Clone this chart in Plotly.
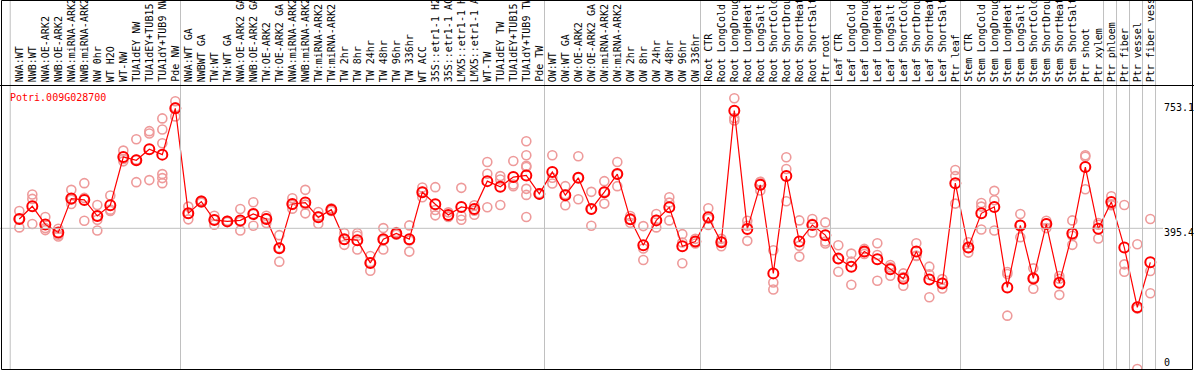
import plotly.graph_objects as go

gene = "Potri.009G028700"

categories = [
    "NWA:WT", "NWB:WT", "NWA:OE-ARK2", "NWB:OE-ARK2", "NWA:miRNA-ARK2", "NWB:miRNA-ARK2",
    "NW 0hr", "WT H2O", "WT-NW", "TUA1dEY NW", "TUA1dEY+TUB15 NW", "TUA1dY+TUB9 NW", "Pde NW",
    "NWA:WT GA", "NWBWT GA", "TW:WT", "TW:WT GA", "NWA:OE-ARK2 GA", "NWB:OE-ARK2 GA",
    "TW:OE-ARK2", "TW:OE-ARK2 GA", "NWA:miRNA-ARK2 GA", "NWB:miRNA-ARK2 GA", "TW:miRNA-ARK2",
    "TW:miRNA-ARK2 GA", "TW 2hr", "TW 8hr", "TW 24hr", "TW 48hr", "TW 96hr", "TW 336hr",
    "WT ACC", "35S::etr1-1 H2O", "35S::etr1-1 ACC", "LMX5::etr1-1 H2O", "LMX5::etr1-1 ACC",
    "WT-TW", "TUA1dEY TW", "TUA1dEY+TUB15 TW", "TUA1dY+TUB9 TW", "Pde TW",
    "OW:WT", "OW:WT GA", "OW:OE-ARK2", "OW:OE-ARK2 GA", "OW:miRNA-ARK2", "OW:miRNA-ARK2 GA",
    "OW 2hr", "OW 8hr", "OW 24hr", "OW 48hr", "OW 96hr", "OW 336hr",
    "Root CTR", "Root LongCold", "Root LongDrought", "Root LongHeat", "Root LongSalt",
    "Root ShortCold", "Root ShortDrought", "Root ShortHeat", "Root ShortSalt", "Ptr root",
    "Leaf CTR", "Leaf LongCold", "Leaf LongDrought", "Leaf LongHeat", "Leaf LongSalt",
    "Leaf ShortCold", "Leaf ShortDrought", "Leaf ShortHeat", "Leaf ShortSalt", "Ptr leaf",
    "Stem CTR", "Stem LongCold", "Stem LongDrought", "Stem LongHeat", "Stem LongSalt",
    "Stem ShortCold", "Stem ShortDrought", "Stem ShortHeat", "Stem ShortSalt", "Ptr shoot",
    "Ptr xylem", "Ptr phloem", "Ptr fiber", "Ptr vessel", "Ptr fiber vessel",
]

means = [
    423, 461, 407, 383, 484, 480, 432, 464, 608, 598, 631, 615, 753.1,
    440, 475, 420, 416, 419, 438, 423, 336, 468, 472, 428, 451,
    363, 360, 292, 363, 380, 363,
    503, 467, 435, 459, 453, 536, 519, 548, 553, 498,
    563, 494, 546, 453, 503, 557, 422, 345, 419, 458, 342, 356,
    428, 354, 746, 393, 525, 261, 551, 356, 405, 375,
    305, 281, 326, 303, 273, 245, 326, 243, 231, 530,
    338, 440, 459, 219, 404, 246, 408, 233, 380, 578,
    394, 474, 338, 160, 294,
]

replicates = [
    [447, 398, 424], [496, 483, 408], [429, 396, 390], [394, 376, 371], [510, 481, 468],
    [530, 486, 418], [465, 432, 421, 389], [493, 451, 447], [627, 602, 595], [661, 533, 600],
    [685, 678, 539], [723, 690, 649, 557, 545, 530], [774, 729, 756],
    [460, 422, 439], [478, 472, 475], [433, 406, 421], [418, 414, 416], [453, 389, 415],
    [473, 403, 438], [433, 411, 425], [375, 296, 337], [485, 454, 465], [510, 440, 466],
    [444, 409, 431], [455, 447, 451],
    [381, 346, 362], [381, 373, 332], [313, 269, 294], [396, 332, 361], [384, 376, 380],
    [404, 326, 359],
    [517, 488, 504], [518, 450, 434], [443, 431, 429], [516, 433, 421], [464, 448, 436],
    [593, 558, 458], [551, 541, 465], [596, 526, 521], [655, 613, 582, 578, 513, 495, 429],
    [500, 496, 498],
    [613, 546, 529], [521, 464, 497], [610, 482, 546], [504, 403, 452], [536, 469, 504],
    [593, 521, 557], [432, 412, 422], [402, 335, 301], [438, 398, 421], [488, 472, 419],
    [378, 353, 291], [364, 350, 356],
    [455, 405, 424], [364, 342, 356], [783, 724, 717], [418, 358, 403], [533, 508, 534],
    [330, 234, 213], [607, 572, 476], [419, 343, 311], [423, 383, 409], [413, 356, 350],
    [345, 266, 304], [320, 296, 227], [334, 319, 325], [351, 316, 239], [286, 254, 279],
    [261, 224, 250], [351, 313, 314], [281, 190, 258], [244, 216, 233], [569, 551, 469],
    [354, 323, 337], [471, 460, 392], [507, 479, 389], [265, 259, 135], [438, 369, 405],
    [276, 215, 247], [418, 396, 410], [253, 245, 197], [419, 373, 346], [613, 609, 512],
    [411, 365, 406], [491, 464, 467], [465, 288, 266], [348, -24, 156], [423, 268, 202],
]

scale_values = [753.1, 395.4, 0]
group_ends = [12, 40, 52, 62, 72, 83, 84, 85, 86, 87]

W, H = 1194, 370
TOP = 88
XMIN, XMAX = -1.485, 90.36
YMIN, YMAX = -27.0, 813.6
MONO = "DejaVu Sans Mono, Liberation Mono, monospace"

idx = list(range(len(categories)))
rx, ry = [], []
for i, reps in enumerate(replicates):
    for v in reps:
        rx.append(i)
        ry.append(v)

fig = go.Figure()
fig.add_trace(go.Scatter(
    x=rx, y=ry, mode="markers", hoverinfo="skip", showlegend=False,
    marker=dict(symbol="circle-open", size=9, color="#ee9a9a", line=dict(width=1.6, color="#ee9a9a")),
))
fig.add_trace(go.Scatter(
    x=idx, y=means, mode="lines+markers", showlegend=False,
    line=dict(color="#ff0000", width=1.2),
    marker=dict(symbol="circle-open", size=10, color="#ff0000", line=dict(width=2, color="#ff0000")),
))


def px_x(i):
    return (i - XMIN) / (XMAX - XMIN)


def py_paper(py):
    return (H - py) / (H - TOP)


shapes = []
sep_positions = [-0.7] + [g + 0.4 for g in group_ends]
for s in sep_positions:
    shapes.append(dict(type="line", xref="paper", yref="paper", x0=px_x(s), x1=px_x(s),
                       y0=0, y1=py_paper(0), line=dict(color="#c0c0c0", width=1)))
# horizontal reference line at middle scale value
shapes.append(dict(type="line", xref="paper", yref="y", x0=0, x1=1163 / W,
                   y0=scale_values[1], y1=scale_values[1], line=dict(color="#c0c0c0", width=1)))
# frame
shapes.append(dict(type="line", xref="paper", yref="paper", x0=0, x1=1,
                   y0=py_paper(85.5), y1=py_paper(85.5), line=dict(color="black", width=1)))
shapes.append(dict(type="rect", xref="paper", yref="paper", x0=1.5 / W, x1=1192.5 / W,
                   y0=py_paper(369.5), y1=py_paper(0.5), line=dict(color="black", width=1)))

annotations = []
for i, c in enumerate(categories):
    annotations.append(dict(
        x=i, xref="x", y=py_paper(83), yref="paper", text=c, showarrow=False,
        textangle=-90, xanchor="center", yanchor="bottom", borderpad=0,
        font=dict(family=MONO, size=10, color="black"),
    ))
annotations.append(dict(
    x=9 / W, xref="paper", y=py_paper(97), yref="paper", text=gene, showarrow=False,
    xanchor="left", yanchor="middle", borderpad=0, font=dict(family=MONO, size=10, color="#ff0000"),
))
shifts = [1, -4, -2]
for v, s in zip(scale_values, shifts):
    annotations.append(dict(
        x=1163 / W, xref="paper", y=v, yref="y", yshift=s, text=f"{v:g}" if v == 0 else f"{v}",
        showarrow=False, xanchor="left", yanchor="middle", borderpad=0,
        font=dict(family=MONO, size=10, color="black"),
    ))

fig.update_layout(
    width=W, height=H, autosize=False,
    margin=dict(l=0, r=0, t=TOP, b=0, pad=0),
    paper_bgcolor="white", plot_bgcolor="white",
    xaxis=dict(range=[XMIN, XMAX], visible=False, showgrid=False, zeroline=False),
    yaxis=dict(range=[YMIN, YMAX], visible=False, showgrid=False, zeroline=False),
    shapes=shapes, annotations=annotations,
)

fig.write_html("out.html", config={"displayModeBar": False},
               post_script="document.body.style.margin='0';")
